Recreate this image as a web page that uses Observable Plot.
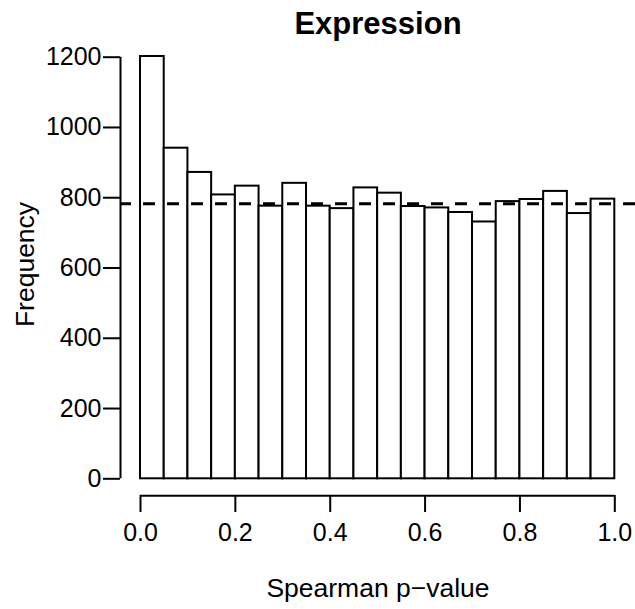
<!DOCTYPE html>
<html><head><meta charset="utf-8">
<script src="https://cdn.jsdelivr.net/npm/d3@7"></script>
<script src="https://cdn.jsdelivr.net/npm/@observablehq/plot@0.6"></script>
<style>body{margin:0;background:#fff} svg{display:block}</style>
</head><body><div id="chart"></div>
<script>
const binStart = [0.00,0.05,0.10,0.15,0.20,0.25,0.30,0.35,0.40,0.45,0.50,0.55,0.60,0.65,0.70,0.75,0.80,0.85,0.90,0.95];
const binEnd   = [0.05,0.10,0.15,0.20,0.25,0.30,0.35,0.40,0.45,0.50,0.55,0.60,0.65,0.70,0.75,0.80,0.85,0.90,0.95,1.00];
const counts   = [1202,941,872,808,833,776,841,776,769,828,813,775,771,758,731,789,795,818,755,796];
const expectedCount = 783;
const xTicks = [0,0.2,0.4,0.6,0.8,1.0];
const yTicks = [0,200,400,600,800,1000,1200];
const titleText = "Expression";
const xLabel = "Spearman p\u2212value";
const yLabel = "Frequency";

const bins = counts.map((c,i)=>({x1: binStart[i], x2: binEnd[i], count: c}));
const font = "'Liberation Sans', Arial, Helvetica, sans-serif";

const chart = Plot.plot({
  width: 635, height: 609,
  marginLeft: 120, marginRight: 0, marginTop: 33, marginBottom: 114,
  style: {fontFamily: font, fontSize: "25px", color: "black", background: "white"},
  x: {domain: [0, 1], range: [140, 614.3]},
  y: {domain: [0, 1200], range: [478.3, 56.7]},
  marks: [
    Plot.rect(bins, {x1: "x1", x2: "x2", y1: 0, y2: "count", fill: "white", stroke: "black", strokeWidth: 2}),
    Plot.ruleY([expectedCount], {stroke: "black", strokeWidth: 3, strokeDasharray: "12,12", strokeDashoffset: 1}),
    Plot.axisY({ticks: yTicks, tickSize: 17, tickPadding: 2, tickFormat: d => String(d), label: null, fontSize: 25, strokeWidth: 2}),
    Plot.ruleX([0], {y1: 0, y2: 1200, dx: -20, stroke: "black", strokeWidth: 2}),
    Plot.axisX({ticks: xTicks, tickSize: 17, tickPadding: 11, tickFormat: d3.format(".1f"), label: null, fontSize: 25, strokeWidth: 2}),
    Plot.ruleY([0], {x1: 0, x2: 1, dy: 17, stroke: "black", strokeWidth: 2}),
    Plot.text([titleText], {frameAnchor: "top", lineAnchor: "bottom", dy: 0, fontWeight: "bold", fontSize: 31}),
    Plot.text([xLabel], {frameAnchor: "bottom", lineAnchor: "bottom", dy: 101, fontSize: 26.5}),
    Plot.text([yLabel], {frameAnchor: "left", textAnchor: "middle", rotate: -90, dx: -95, fontSize: 26.5})
  ]
});
document.getElementById("chart").appendChild(chart);
</script>
</body></html>
